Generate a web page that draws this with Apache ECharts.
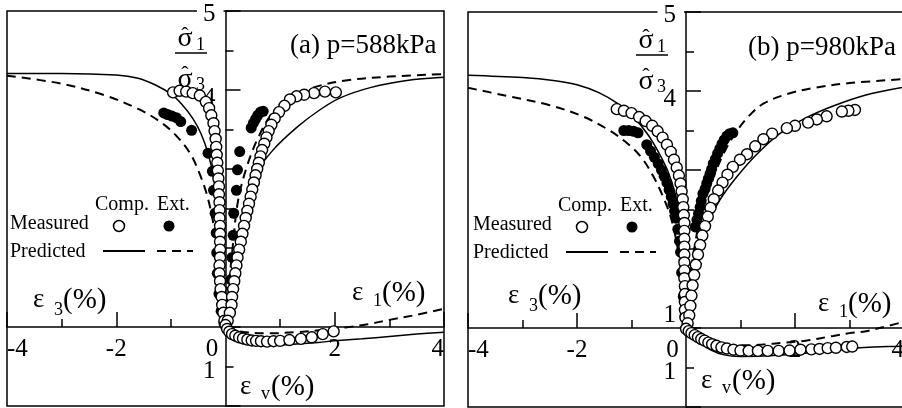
<!DOCTYPE html>
<html>
<head>
<meta charset="utf-8">
<script src="https://cdn.jsdelivr.net/npm/echarts@6/dist/echarts.min.js"></script>
<style>
  html, body { margin: 0; padding: 0; background: #fff; }
  #chart { width: 902px; height: 408px; }
</style>
</head>
<body>
<div id="chart"></div>
<script>
// ---------- Panel (a): p = 588 kPa ----------
// stress ratio vs ε3 (left half, x < 0)
const aCompPredL = [[-4,4.21],[-3,4.21],[-2,4.19],[-1.6,4.15],[-1.3,4.07],[-1.0,3.95],[-0.8,3.82],[-0.6,3.64],[-0.45,3.45],[-0.32,3.2],[-0.22,2.9],[-0.14,2.5],[-0.08,2.0],[-0.04,1.5],[0,1.0]];
const aExtPredL = [[-4,4.18],[-3,4.08],[-2.2,3.93],[-1.6,3.76],[-1.2,3.6],[-0.9,3.42],[-0.65,3.2],[-0.48,2.95],[-0.33,2.65],[-0.22,2.3],[-0.13,1.9],[-0.06,1.45],[0,1.0]];
// stress ratio vs ε1 (right half, x > 0)
const aCompPredR = [[0,1],[0.12,1.5],[0.25,2.0],[0.4,2.5],[0.57,2.95],[0.87,3.24],[1.31,3.53],[1.73,3.75],[2.1,3.9],[2.65,4.03],[3.32,4.12],[4.0,4.16]];
const aExtPredR = [[0,1],[0.06,1.5],[0.13,2.0],[0.23,2.6],[0.4,3.05],[0.6,3.4],[0.85,3.7],[1.2,3.9],[1.6,4.03],[2.2,4.12],[3.0,4.17],[4.0,4.2]];
// volumetric strain vs ε1
const aCompPredV = [[0,0],[0.1,0.14],[0.25,0.28],[0.45,0.38],[0.7,0.44],[1.0,0.45],[1.3,0.43],[1.7,0.39],[2.0,0.35],[2.5,0.3],[3.0,0.24],[3.5,0.18],[4.0,0.13]];
const aExtPredV = [[0,0],[0.3,0.12],[0.8,0.16],[1.3,0.13],[1.8,0.07],[2.2,0.01],[2.6,-0.07],[3.0,-0.18],[3.5,-0.31],[4.0,-0.46]];
// measured points
const aCompMeasL = [[-0.96,3.97],[-0.84,3.99],[-0.72,3.98],[-0.6,3.96],[-0.47,3.93],[-0.36,3.85],[-0.3,3.77],[-0.26,3.68],[-0.22,3.58],[-0.2,3.48],[-0.18,3.38],[-0.17,3.28],[-0.16,3.18],[-0.15,3.08],[-0.14,2.98],[-0.13,2.88],[-0.12,2.78],[-0.12,2.68],[-0.11,2.58],[-0.11,2.48],[-0.11,2.38],[-0.1,2.28],[-0.1,2.18],[-0.1,2.08],[-0.1,1.98],[-0.1,1.88],[-0.11,1.78],[-0.11,1.68],[-0.1,1.58],[-0.09,1.48],[-0.07,1.38],[-0.06,1.28],[-0.04,1.18],[-0.02,1.08]];
const aExtMeasL = [[-1.13,3.71],[-1.06,3.69],[-0.98,3.67],[-0.9,3.65],[-0.82,3.6],[-0.62,3.49],[-0.32,3.2],[-0.24,2.97],[-0.22,2.73],[-0.19,2.44],[-0.17,2.19],[-0.16,1.94],[-0.15,1.68],[-0.12,1.42],[-0.08,1.2],[-0.03,1.05]];
const aCompMeasR = [[2.02,3.97],[1.82,3.98],[1.62,3.96],[1.44,3.94],[1.3,3.92],[1.18,3.88],[1.08,3.8],[0.98,3.72],[0.9,3.64],[0.84,3.56],[0.79,3.48],[0.75,3.4],[0.71,3.32],[0.67,3.24],[0.64,3.16],[0.61,3.08],[0.58,3.0],[0.55,2.92],[0.52,2.83],[0.49,2.74],[0.46,2.65],[0.43,2.56],[0.4,2.47],[0.37,2.38],[0.34,2.28],[0.31,2.18],[0.28,2.08],[0.25,1.98],[0.22,1.88],[0.2,1.78],[0.18,1.68],[0.16,1.58],[0.14,1.48],[0.12,1.38],[0.11,1.28],[0.08,1.18],[0.04,1.08]];
const aExtMeasR = [[0.69,3.73],[0.64,3.72],[0.59,3.68],[0.55,3.63],[0.51,3.58],[0.47,3.52],[0.26,3.22],[0.22,2.99],[0.2,2.73],[0.15,2.44],[0.14,2.16],[0.12,1.88],[0.1,1.6],[0.07,1.35],[0.04,1.15]];
const aCompMeasV = [[0.0,-0.05],[0.03,0.05],[0.07,0.12],[0.12,0.18],[0.18,0.22],[0.25,0.26],[0.32,0.29],[0.4,0.32],[0.48,0.34],[0.56,0.35],[0.65,0.36],[0.76,0.37],[0.88,0.36],[1.0,0.35],[1.17,0.33],[1.38,0.3],[1.58,0.26],[1.78,0.18],[1.98,0.11]];

// ---------- Panel (b): p = 980 kPa ----------
const bCompPredL = [[-4,4.2],[-3,4.17],[-2.4,4.13],[-2.0,4.08],[-1.6,3.98],[-1.25,3.84],[-0.95,3.66],[-0.7,3.45],[-0.5,3.22],[-0.33,2.98],[-0.2,2.7],[-0.12,2.4],[-0.06,2.0],[-0.03,1.6],[0,1.0]];
const bExtPredL = [[-4,4.04],[-3.3,3.94],[-2.5,3.82],[-1.9,3.68],[-1.45,3.52],[-1.1,3.35],[-0.82,3.16],[-0.6,2.92],[-0.42,2.66],[-0.27,2.38],[-0.15,2.0],[-0.07,1.6],[0,1.0]];
const bCompPredR = [[0,1],[0.04,1.3],[0.09,1.6],[0.17,1.9],[0.27,2.1],[0.4,2.32],[0.62,2.62],[0.94,2.92],[1.3,3.2],[1.72,3.46],[2.2,3.66],[2.7,3.81],[3.3,3.95],[4.0,4.05]];
const bExtPredR = [[0,1],[0.06,1.5],[0.15,2.0],[0.3,2.5],[0.5,2.9],[0.72,3.25],[0.94,3.5],[1.15,3.68],[1.42,3.84],[1.85,3.96],[2.35,4.04],[3.0,4.1],[4.0,4.15]];
const bCompPredV = [[0,0],[0.1,0.15],[0.25,0.35],[0.45,0.55],[0.7,0.68],[1.0,0.72],[1.4,0.71],[2.0,0.66],[2.6,0.59],[3.2,0.5],[3.7,0.47],[4.0,0.46]];
const bExtPredV = [[0,0],[0.2,0.22],[0.5,0.38],[0.9,0.44],[1.4,0.42],[1.8,0.37],[2.2,0.32],[2.7,0.2],[3.0,0.13],[3.3,0.08],[3.7,-0.05],[4.0,-0.16]];
const bCompMeasL = [[-1.27,3.77],[-1.14,3.75],[-1.0,3.72],[-0.86,3.67],[-0.74,3.62],[-0.62,3.56],[-0.52,3.49],[-0.43,3.41],[-0.35,3.32],[-0.28,3.23],[-0.22,3.13],[-0.17,3.03],[-0.13,2.93],[-0.1,2.83],[-0.08,2.73],[-0.06,2.63],[-0.05,2.53],[-0.04,2.43],[-0.03,2.33],[-0.03,2.23],[-0.03,2.13],[-0.03,2.03],[-0.03,1.93],[-0.03,1.83],[-0.03,1.73],[-0.03,1.63],[-0.02,1.53],[-0.02,1.43],[-0.02,1.33],[-0.02,1.23],[-0.01,1.13]];
const bExtMeasL = [[-1.14,3.5],[-1.05,3.5],[-0.96,3.49],[-0.88,3.47],[-0.72,3.32],[-0.65,3.24],[-0.58,3.16],[-0.51,3.08],[-0.45,3.0],[-0.4,2.92],[-0.35,2.84],[-0.31,2.75],[-0.27,2.66],[-0.24,2.57],[-0.21,2.48],[-0.18,2.39],[-0.15,2.25],[-0.12,2.1],[-0.1,1.96],[-0.08,1.7],[-0.05,1.4],[-0.02,1.15]];
const bCompMeasR = [[3.1,3.76],[2.98,3.75],[2.86,3.74],[2.58,3.68],[2.4,3.64],[2.24,3.6],[2.0,3.56],[1.85,3.53],[1.58,3.46],[1.42,3.39],[1.27,3.3],[1.12,3.2],[0.99,3.13],[0.86,3.04],[0.76,2.94],[0.67,2.84],[0.59,2.74],[0.51,2.63],[0.45,2.52],[0.4,2.41],[0.35,2.29],[0.3,2.17],[0.26,2.05],[0.22,1.93],[0.18,1.8],[0.15,1.67],[0.12,1.54],[0.1,1.41],[0.08,1.28],[0.06,1.16],[0.03,1.06]];
const bExtMeasR = [[0.86,3.47],[0.8,3.46],[0.75,3.43],[0.7,3.38],[0.66,3.33],[0.62,3.27],[0.58,3.21],[0.54,3.14],[0.5,3.08],[0.47,3.01],[0.44,2.95],[0.41,2.89],[0.38,2.83],[0.35,2.76],[0.31,2.7],[0.28,2.61],[0.26,2.53],[0.23,2.45],[0.2,2.37],[0.17,2.28],[0.1,1.7],[0.05,1.3]];
const bCompMeasV = [[0.0,0.02],[0.05,0.08],[0.1,0.13],[0.16,0.18],[0.22,0.23],[0.28,0.28],[0.34,0.32],[0.41,0.37],[0.48,0.41],[0.56,0.45],[0.65,0.49],[0.75,0.52],[0.87,0.55],[1.0,0.57],[1.15,0.58],[1.32,0.58],[1.5,0.58],[1.7,0.58],[1.9,0.57],[2.1,0.55],[2.3,0.54],[2.45,0.53],[2.6,0.51],[2.75,0.5],[2.95,0.48],[3.05,0.47]];
const bExtMeasV = [[0,0],[0.02,0.04],[0.04,0.07]];

// ---------- tick labels ----------
const strainTicks = [-4, -2, 0, 2, 4];
const ratioLabelsA = [4, 5];
const ratioLabelsB = [1, 4, 5];
const volLabels = [1];

const titles = ['(a) p=588kPa', '(b) p=980kPa'];
const legendHead = ['Comp.', 'Ext.'];
const legendRows = ['Measured', 'Predicted'];

const FONT = '"Liberation Serif", "Times New Roman", serif';
const BLACK = '#000';

// panel frames (pixels) and the axis ranges they show
const frames = [
  { left: 7, top: 11, width: 437, height: 395 },
  { left: 468, top: 12, width: 436, height: 395 }
];
const STRAIN_RANGE = [-4, 4];
const RATIO_RANGE = [0, 5];
const VOL_RANGE = [-8, 2];   // inverse axis: ε_v = 0 sits on stress ratio 1

// offsets that move the axes onto the crossing point (ε = 0, ratio = 1)
function yOffset(f) { return -f.width * (0 - STRAIN_RANGE[0]) / (STRAIN_RANGE[1] - STRAIN_RANGE[0]); }
function xOffset(f) { return -f.height * (1 - RATIO_RANGE[0]) / (RATIO_RANGE[1] - RATIO_RANGE[0]); }

// ---------- axes ----------
function strainAxis(gridIndex) {
  return {
    type: 'value', gridIndex, min: STRAIN_RANGE[0], max: STRAIN_RANGE[1], interval: 2,
    position: 'bottom', offset: xOffset(frames[gridIndex]),
    axisLine: { show: true, onZero: false, lineStyle: { color: BLACK, width: 1.5 } },
    axisTick: { show: true, inside: true, length: 15, lineStyle: { color: BLACK, width: 1.5 } },
    minorTick: { show: true, splitNumber: 2, length: 8, lineStyle: { color: BLACK, width: 1.5 } },
    splitLine: { show: false },
    axisLabel: {
      margin: 10, fontFamily: FONT, fontSize: 25, color: BLACK,
      alignMinLabel: 'left', alignMaxLabel: 'right',
      formatter: v => strainTicks.includes(v) ? (v === 0 ? '{z|0}' : String(v)) : '',
      rich: { z: { fontFamily: FONT, fontSize: 25, color: BLACK, padding: [0, 27, 0, 0] } }
    }
  };
}
function ratioAxis(gridIndex, labels) {
  return {
    type: 'value', gridIndex, min: RATIO_RANGE[0], max: RATIO_RANGE[1], interval: 1,
    position: 'left', offset: yOffset(frames[gridIndex]),
    axisLine: { show: true, onZero: false, lineStyle: { color: BLACK, width: 1.5 } },
    axisTick: { show: true, inside: true, length: 15, lineStyle: { color: BLACK, width: 1.5 } },
    minorTick: { show: true, splitNumber: 2, length: 8, lineStyle: { color: BLACK, width: 1.5 } },
    splitLine: { show: false },
    axisLabel: {
      margin: 2, fontFamily: FONT, fontSize: 25, color: BLACK,
      formatter: v => labels.includes(v) ? `{r${v}|${v}}` : '',
      rich: {
        r5: { fontFamily: FONT, fontSize: 25, color: BLACK, backgroundColor: '#fff', padding: [6, 8, 0, 6] },
        r4: { fontFamily: FONT, fontSize: 25, color: BLACK, padding: [16, 8, 0, 0] },
        r1: { fontFamily: FONT, fontSize: 25, color: BLACK, padding: [0, 8, 26, 0] }
      }
    }
  };
}
function volAxis(gridIndex) {
  return {
    type: 'value', gridIndex, min: VOL_RANGE[0], max: VOL_RANGE[1], interval: 1, inverse: true,
    position: 'left', offset: yOffset(frames[gridIndex]),
    axisLine: { show: false, onZero: false },
    axisTick: { show: false },
    splitLine: { show: false },
    axisLabel: {
      margin: 2, fontFamily: FONT, fontSize: 25, color: BLACK,
      formatter: v => volLabels.includes(v) ? `{v|${v}}` : '',
      rich: { v: { fontFamily: FONT, fontSize: 25, color: BLACK, padding: [10, 8, 0, 0] } }
    }
  };
}

// ---------- series ----------
function curve(data, xi, yi, dashed) {
  return {
    type: 'line', data, xAxisIndex: xi, yAxisIndex: yi, smooth: 0.35,
    symbol: 'none', z: 2, silent: true,
    lineStyle: dashed ? { color: BLACK, width: 2, type: [9, 6] } : { color: BLACK, width: 1.5 }
  };
}
function points(data, xi, yi, filled) {
  return {
    type: 'scatter', data, xAxisIndex: xi, yAxisIndex: yi, symbol: 'circle', symbolSize: 11,
    z: filled ? 3 : 4, silent: true,
    itemStyle: filled ? { color: BLACK, opacity: 1 } : { color: '#fff', borderColor: BLACK, borderWidth: 1.4, opacity: 1 }
  };
}

// ---------- text and legend ----------
function txt(x, y, text, size, align) {
  return { type: 'text', x, y, z: 10,
    style: { text, font: `${size}px ${FONT}`, fill: BLACK, align: align || 'left', verticalAlign: 'middle',
             textAlign: align || 'left', textVerticalAlign: 'middle' } };
}
function hline(x1, x2, y, dashed, w) {
  return { type: 'line', z: 10, shape: { x1, y1: y, x2, y2: y },
    style: { stroke: BLACK, lineWidth: w || (dashed ? 2 : 1.5), lineDash: dashed ? [9, 6] : null } };
}
function dot(cx, cy, filled) {
  return { type: 'circle', z: 10, shape: { cx, cy, r: 5.5 },
    style: filled ? { fill: BLACK } : { fill: '#fff', stroke: BLACK, lineWidth: 1.5 } };
}
function panelText(o) {
  return [
    txt(o.title[0], o.title[1], o.titleText, 27),
    // stress-ratio fraction
    txt(o.frac[0], o.frac[1], '\u03C3', 28, 'center'),
    txt(o.frac[0], o.frac[1] - 3, '\u02C6', 22, 'center'),
    txt(o.frac[0] + 11, o.frac[1] + 6, '1', 18, 'left'),
    hline(o.frac[0] - 10, o.frac[0] + 22, o.frac[1] + 14, false, 1.5),
    txt(o.frac[0], o.frac[1] + 41, '\u03C3', 28, 'center'),
    txt(o.frac[0], o.frac[1] + 36, '\u02C6', 22, 'center'),
    txt(o.frac[0] + 11, o.frac[1] + 46, '3', 18, 'left'),
    // axis names
    txt(o.e3[0], o.e3[1], '\u03B5', 27, 'left'),
    txt(o.e3[0] + 21, o.e3[1] + 10, '3', 18, 'left'),
    txt(o.e3[0] + 30, o.e3[1], '(%)', 29, 'left'),
    txt(o.e1[0], o.e1[1], '\u03B5', 27, 'left'),
    txt(o.e1[0] + 21, o.e1[1] + 8, '1', 18, 'left'),
    txt(o.e1[0] + 30, o.e1[1], '(%)', 29, 'left'),
    txt(o.ev[0], o.ev[1], '\u03B5', 27, 'left'),
    txt(o.ev[0] + 21, o.ev[1] + 7, 'v', 18, 'left'),
    txt(o.ev[0] + 31, o.ev[1], '(%)', 29, 'left'),
    // legend
    txt(o.leg[0] + 85, o.leg[1], legendHead[0], 20, 'left'),
    txt(o.leg[0] + 147, o.leg[1], legendHead[1], 20, 'left'),
    txt(o.leg[0], o.leg[1] + 19, legendRows[0], 20, 'left'),
    dot(o.leg[0] + 109, o.leg[1] + 21, false),
    dot(o.leg[0] + 159, o.leg[1] + 21, true),
    txt(o.leg[0], o.leg[1] + 47, legendRows[1], 20, 'left'),
    hline(o.leg[0] + 93, o.leg[0] + 135, o.leg[1] + 46, false, 1.8),
    hline(o.leg[0] + 147, o.leg[0] + 183, o.leg[1] + 46, true)
  ];
}

const option = {
  animation: false,
  backgroundColor: '#fff',
  grid: frames.map(f => Object.assign({}, f, {
    show: true, borderColor: BLACK, borderWidth: 1.5, containLabel: false, outerBoundsMode: 'none'
  })),
  xAxis: [strainAxis(0), strainAxis(1)],
  yAxis: [ratioAxis(0, ratioLabelsA), volAxis(0), ratioAxis(1, ratioLabelsB), volAxis(1)],
  series: [
    curve(aCompPredL, 0, 0, false), curve(aExtPredL, 0, 0, true),
    curve(aCompPredR, 0, 0, false), curve(aExtPredR, 0, 0, true),
    curve(aCompPredV, 0, 1, false), curve(aExtPredV, 0, 1, true),
    points(aExtMeasL, 0, 0, true), points(aExtMeasR, 0, 0, true),
    points(aCompMeasL, 0, 0, false), points(aCompMeasR, 0, 0, false), points(aCompMeasV, 0, 1, false),

    curve(bCompPredL, 1, 2, false), curve(bExtPredL, 1, 2, true),
    curve(bCompPredR, 1, 2, false), curve(bExtPredR, 1, 2, true),
    curve(bCompPredV, 1, 3, false), curve(bExtPredV, 1, 3, true),
    points(bExtMeasL, 1, 2, true), points(bExtMeasR, 1, 2, true),
    points(bCompMeasL, 1, 2, false), points(bCompMeasR, 1, 2, false),
    points(bCompMeasV, 1, 3, false), points(bExtMeasV, 1, 3, true)
  ],
  graphic: [
    ...panelText({ titleText: titles[0], title: [290, 46], frac: [185, 39], e3: [33, 300], e1: [352, 293], ev: [240, 387], leg: [10, 205] }),
    ...panelText({ titleText: titles[1], title: [748, 48], frac: [646, 41], e3: [508, 296], e1: [818, 304], ev: [701, 381], leg: [473, 206] })
  ]
};

const chart = echarts.init(document.getElementById('chart'), null, { renderer: 'canvas' });
chart.setOption(option);
</script>
</body>
</html>
